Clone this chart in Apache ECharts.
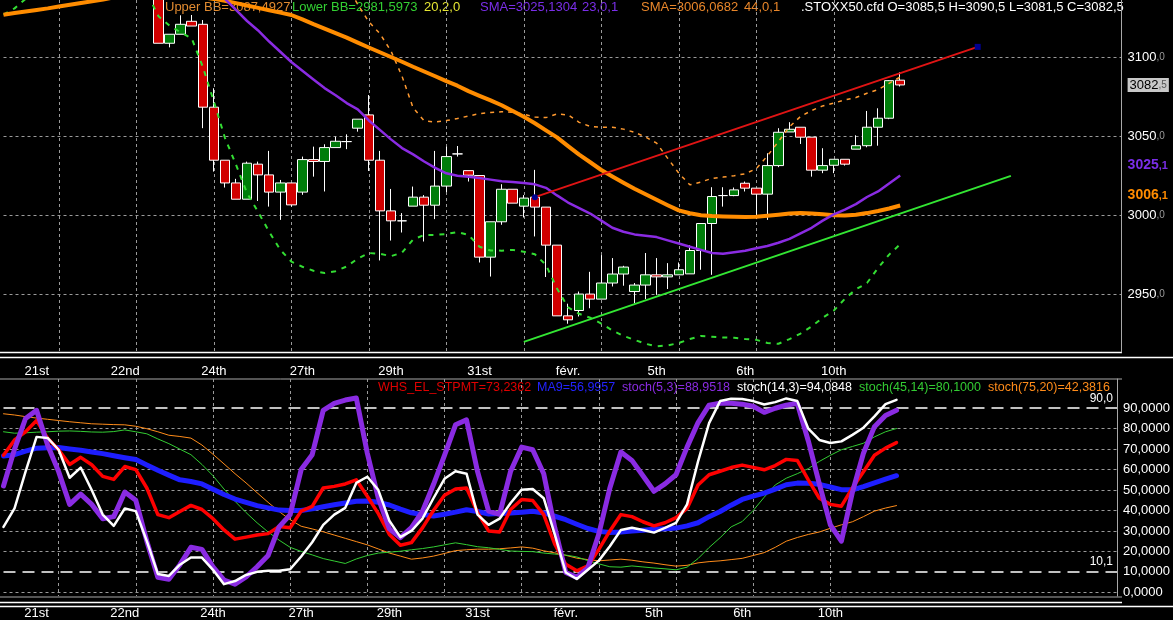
<!DOCTYPE html>
<html>
<head>
<meta charset="utf-8">
<title>STOXX50.cfd</title>
<script src="https://cdn.jsdelivr.net/npm/echarts@6.0.0/dist/echarts.min.js"></script>
<style>
  html, body { margin: 0; padding: 0; background: #000; }
  #chartContainer { width: 1173px; height: 620px; }
</style>
</head>
<body>
<div id="chartContainer"></div>
<script>
// one category slot per bar; first visible candle sits on slot 14
const slotCount = 102;
const firstCandleSlot = 14;

// x axis labels and the slots they sit on
const dateLabels = ['21st', '22nd', '24th', '27th', '29th', '31st', 'févr.', '5th', '6th', '10th'];
const dateLabelSlots = [3, 11, 19, 27, 35, 43, 51, 59, 67, 75];
const gridSlots = [5, 12, 19, 26, 33, 40, 47, 54, 61, 68, 75];

// candles
const opens = [3150, 3108.9, 3114.6, 3122.8, 3120.9, 3068.4, 3034.8, 3020.4, 3010.1, 3032.3,
  3025.5, 3014.6, 3020.4, 3014.6, 3035.2, 3034, 3042.8, 3046.6, 3055.1, 3063.5,
  3034.8, 3002.7, 2996.4, 3005.7, 3011.4, 3006.3, 3018.4, 3038.8, 3028.2, 3025.1,
  2973.4, 2995.8, 3016.4, 3005.7, 3011.4, 3005.1, 2981, 2936.2, 2939.6, 2950,
  2946.8, 2957, 2962.7, 2951.6, 2955.7, 2962.2, 2960.9, 2962.2, 2962.8, 2977.6,
  2994.7, 3012.4, 3012.4, 3020.2, 3017.1, 3013.3, 3031.4, 3052.7, 3055.7, 3049.4,
  3028.5, 3031.6, 3035.4, 3041.8, 3044, 3055.7, 3061.4, 3085.5];
const closes = [3108.9, 3114.6, 3120.9, 3119.8, 3068.4, 3034.8, 3020.4, 3010.1, 3032.9, 3025.5,
  3014.6, 3020.4, 3006.5, 3035.2, 3034, 3042.8, 3046.8, 3046.6, 3060.8, 3034.8,
  3002.7, 2996.4, 2996.4, 3011.4, 3006.3, 3018.4, 3037.1, 3038.8, 3025.3, 2973.4,
  2995.8, 3016.4, 3007.6, 3010.8, 3005.1, 2981, 2936.2, 2933.7, 2950, 2946.8,
  2957, 2962.7, 2967.1, 2955.7, 2962.2, 2960.9, 2962.2, 2965.4, 2977.6, 2994.7,
  3011.8, 3012.4, 3016, 3017.1, 3013.3, 3031.4, 3052.5, 3054.4, 3049.4, 3028.5,
  3031.4, 3035.4, 3032.3, 3044, 3055.7, 3061.4, 3085.2, 3082.5];
const lows = [3108.9, 3106.3, 3114.6, 3119.8, 3055.1, 3027.6, 3017.5, 3010.1, 3010.1, 3009,
  3005.4, 2997, 3005.4, 3012.9, 3024.4, 3015, 3042.8, 3041.8, 3052.9, 3028,
  2971.3, 2983.9, 2989, 3005.7, 2983.3, 2997.5, 3014.6, 3037.1, 3021.3, 2970,
  2961.1, 2993.9, 3007.6, 2998.5, 2986.5, 2960.8, 2936.2, 2931.2, 2935.8, 2941,
  2946.8, 2954.8, 2955.3, 2944.2, 2946.8, 2949.5, 2953.2, 2962.2, 2962.8, 2965.4,
  2962.2, 3005.4, 3012, 3015, 2997.5, 2997, 3030.4, 3052.7, 3045.1, 3024.4,
  3026.6, 3026.6, 3031.4, 3041.8, 3043, 3044, 3060.8, 3081.5];
const highs = [3155, 3114.6, 3126.6, 3126.8, 3123.6, 3080.4, 3034.8, 3023, 3033.9, 3033.9,
  3040.7, 3022.3, 3020.4, 3037.1, 3043.4, 3044.9, 3049.7, 3051.2, 3060.8, 3076.1,
  3040.7, 3016.6, 3001.3, 3018.1, 3012.7, 3040.7, 3043.4, 3043.8, 3028.2, 3025.1,
  2995.8, 3019.6, 3016.4, 3012.7, 3028.7, 3005.1, 2981, 2943.9, 2951.6, 2964.1,
  2974.7, 2972.8, 2967.9, 2957, 2976, 2972.8, 2969.6, 2970, 2981, 2994.7,
  3017.7, 3017.7, 3017.5, 3021.3, 3017.1, 3039.2, 3055.1, 3058.9, 3055.7, 3049.4,
  3042.4, 3035.4, 3035.4, 3050.6, 3066, 3067.7, 3085.5, 3090.5];

// price indicators, one value per slot
const sma44 = [3127, 3128, 3129, 3130, 3131, 3132.2, 3133.3, 3134.4, 3135.5, 3136.6,
  3138, 3139.5, 3140.5, 3141, 3141, 3140.5, 3140, 3139, 3138, 3137,
  3135.8, 3134.3, 3132.8, 3131.3, 3129.8, 3128.3, 3126.8, 3124, 3121, 3118.2,
  3115.3, 3112.5, 3109.3, 3106.2, 3103.2, 3100.2, 3097.2, 3094, 3091, 3088,
  3084.9, 3082, 3078.6, 3075.6, 3072.7, 3069.6, 3066, 3062.3, 3058.2, 3053.7,
  3049.3, 3043.7, 3038.3, 3033.5, 3028.6, 3024.5, 3020.5, 3016.7, 3013.2, 3009.7,
  3006.3, 3003, 3001.2, 2999.9, 2999.4, 2999.2, 2999, 2998.8, 2999, 2999.6,
  3000.3, 3001, 3001.3, 3001, 3000.5, 3000, 2999.7, 3000.2, 3001.3, 3002.6,
  3004.2, 3006.1];
const sma23Start = 19;
const sma23 = [3143, 3137, 3130, 3123, 3117, 3110, 3103.5, 3097, 3091.5, 3086, 3080.5,
  3076, 3071, 3067, 3060, 3054, 3048, 3042.5, 3038.5, 3034, 3030,
  3026.5, 3025, 3024.3, 3023.5, 3022.5, 3021.5, 3021, 3020.3, 3019.5, 3017.3,
  3012.5, 3008, 3004.5, 3001, 2996.5, 2992, 2989.5, 2987.8, 2987, 2986.1,
  2984, 2982, 2980, 2978, 2976, 2975.5, 2976.5, 2977.5, 2979, 2980.5,
  2982.5, 2985, 2988.5, 2992, 2996.5, 3000.5, 3003.5, 3007, 3011.5, 3015,
  3020, 3025.1];
const upperBBStart = 31;
const upperBB = [3146, 3133.5, 3122.5, 3115, 3104, 3088, 3068, 3059.8, 3059, 3059.9,
  3061.2, 3062.8, 3064.3, 3065, 3065.5, 3065.2, 3064, 3062.2, 3061.8, 3064.1,
  3063.5, 3058.8, 3056.2, 3055.7, 3055.7, 3054.5, 3052.5, 3049.5, 3045.6, 3036,
  3026.6, 3019.2, 3021, 3023.3, 3024.1, 3025, 3026.2, 3029.5, 3037.5, 3046.6,
  3056, 3062.5, 3066.3, 3069.2, 3071, 3073, 3074.5, 3077.2, 3079.5, 3083.5,
  3087.5];
const lowerBB = [3127, 3131, 3137, 3143, 3148, 3152, 3155, 3156, 3156, 3155,
  3152, 3148, 3144, 3140, 3126, 3120, 3115.8, 3112, 3094, 3072,
  3049, 3032, 3014, 3002, 2989.5, 2978, 2970.6, 2967.3, 2964.8, 2963.3,
  2964.5, 2967.5, 2972.5, 2976, 2975.5, 2974, 2976.3, 2984.5, 2987.5, 2987.5,
  2988, 2989.3, 2987.5, 2980, 2977.6, 2977.5, 2978, 2976.8, 2975.2, 2968.5,
  2953.5, 2941.6, 2937.5, 2935, 2931.3, 2927, 2923.5, 2921, 2918.5, 2916.8,
  2917.5, 2919, 2921.5, 2923.5, 2923, 2922.5, 2922.3, 2921.5, 2921, 2919,
  2918.5, 2921.5, 2925, 2929.5, 2935, 2939.5, 2947, 2953, 2957, 2966.5,
  2975, 2981.6];

// trend lines, [slot, price]
const resistance = [[48, 3011.4], [88, 3106.6]];
const support = [[47, 2919.7], [91, 3024.9]];

// oscillator panel, slots 0..81
const stpmt = [67, 74.5, 78.5, 84, 75.4, 69.7, 62.5, 66, 62.4, 56.7,
  55.2, 61.5, 60, 51, 38, 36.5, 39.5, 42.5, 40.5, 36,
  30.5, 26, 27, 28, 28.7, 32.2, 31.6, 39.7, 42, 51,
  51.8, 53, 55, 47, 38.5, 28.3, 23, 24.3, 31.5, 40,
  47.5, 50.5, 51, 39, 30, 29.5, 40.5, 45.4, 44.9, 38,
  23.5, 13.7, 10.5, 12.9, 21, 30, 38, 37, 34.5, 32.5,
  34, 36.5, 41, 52.5, 57.5, 59.2, 61, 62.2, 61.1, 59.9,
  62, 65, 64.5, 55, 46, 43, 42.1, 51, 59, 67,
  70.5, 73.2];
const ma9 = [66.7, 67.3, 69, 70.5, 70.7, 70.8, 70.1, 69.5, 68.6, 67.8,
  66.8, 65.8, 64.9, 62.3, 59.7, 57.3, 55, 54.2, 53, 50.4,
  47.8, 45.6, 44, 42.4, 41.3, 40.2, 40, 40, 40.8, 41.8,
  42.8, 43.7, 44.5, 44.6, 44, 42.7, 40.7, 38.9, 38, 37.3,
  38.2, 39.2, 40.4, 39.5, 38.3, 38.5, 38.8, 39.2, 39.6, 38.8,
  37.2, 35.5, 33.3, 31.2, 29.8, 29.3, 29.5, 30, 30.4, 30.8,
  31.1, 31.4, 32.5, 34, 37, 39.5, 42.6, 45.4, 47, 48.5,
  50.5, 52.6, 53.4, 53.3, 52.8, 51.5, 50.2, 50.1, 51.7, 53.5,
  55.3, 57];
const stoch5 = [52, 70, 85, 89, 72, 59, 43, 48, 43, 36,
  37, 49, 45, 25, 7.3, 6.4, 13.5, 22, 21, 12.5,
  6, 4, 7.5, 12.5, 18, 32, 38, 60, 67.3, 89,
  92.4, 94, 95, 68, 46, 31, 26.7, 31.6, 39.5, 52.7,
  67, 81.9, 84.3, 59, 39.7, 38.1, 59.2, 71, 69.7, 58,
  31.6, 9.7, 7.3, 12, 28.5, 51, 68.6, 64.5, 57, 49.4,
  53, 57.5, 71, 83, 91.5, 92.4, 92.4, 92, 91, 88,
  90, 91.5, 92.4, 74, 53, 33, 25, 49, 68, 81,
  86.5, 89];
const stoch14 = [32, 41, 59, 76, 75.5, 69.7, 56, 61, 50, 38,
  32.5, 41, 39.7, 25, 9, 8, 13.5, 17, 17, 11,
  4, 5.5, 8.5, 10, 10.5, 10.5, 11.3, 17.5, 24.5, 33,
  38, 41.3, 53.5, 56.5, 50, 35, 27, 30, 36, 46,
  55.5, 59.2, 58, 38, 33, 36, 43.7, 50.2, 50.5, 46,
  28.3, 9.7, 6.5, 11, 15.5, 22.5, 30.5, 31.6, 30.5, 29.2,
  31.5, 34, 43, 64, 82.7, 93.5, 94.6, 94.5, 93.5, 91.8,
  93, 94.8, 93.5, 80, 74.5, 73, 73.8, 77, 80.5, 86,
  92, 94.1];
const stoch45 = [78.5, 77.8, 78, 78.3, 78.5, 78.8, 78.9, 78.7, 78.4, 78.3,
  78.6, 79.4, 78.5, 77.5, 75, 72.7, 70, 67.3, 62.5, 57,
  50.5, 44.5, 39, 34, 29.5, 25.5, 22, 20, 18.3, 16.5,
  15.3, 14.1, 16.3, 18, 19.2, 19.6, 20.1, 20.8, 21.4, 22.2,
  23.2, 24.2, 23.3, 22.3, 21.8, 21, 20.2, 20, 19.9, 19.2,
  18.7, 18.2, 17.3, 15.5, 13.9, 12.5, 12.3, 12.9, 12.4, 11.9,
  11.5, 11, 12.3, 16.5, 21.9, 26.7, 32, 34.6, 40, 46.5,
  52.5, 55.8, 58, 60.5, 64, 67, 69.7, 71.3, 72.9, 76,
  78.5, 80.1];
const stoch75 = [87.3, 86.7, 85.9, 85.2, 84.6, 84, 83.4, 82.9, 82.4, 82.2,
  82, 81.9, 81.2, 80, 78.5, 76.8, 76.2, 75.4, 72, 67.5,
  62.8, 58, 53.5, 48.7, 44, 39.5, 35.5, 32.3, 31, 29.6,
  28, 26.4, 24.8, 23.2, 21.2, 19.2, 17.7, 16.2, 16.8, 17.7,
  19, 20.4, 20.8, 21.1, 21.1, 21.3, 21.7, 22.2, 21.6, 20.3,
  19.3, 18.1, 16.7, 16, 15.4, 15.8, 16.2, 15.7, 14.9, 14.3,
  13.5, 12.8, 13.2, 14.4, 15, 15.4, 16, 16.6, 18, 19.4,
  22, 25, 26.8, 28.3, 29.5, 31.3, 33, 34.5, 37, 39.7,
  41.2, 42.4];
const oscLevels = [0, 20, 30, 40, 50, 60, 70, 80];
const oscBands = [90, 10.1];

const FONT = '"Liberation Sans", Arial, sans-serif';
const GRID_LINE = { color: '#9a9a9a', type: [3, 3], width: 1 };

var myChart = echarts.init(document.getElementById('chartContainer'), null, { renderer: 'canvas' });

const slots = Array.from({ length: slotCount }, (_, i) => String(i));
const candleData = opens.map((o, i) => [firstCandleSlot + i, o, closes[i], lows[i], highs[i]]);

function toPairs(values, start) {
  return values.map((v, i) => [start + i, v]);
}

function priceTag(v) {
  const parts = v.toFixed(1).split('.');
  return '{a|' + parts[0] + '}{b|,' + parts[1] + '}';
}

// hidden horizontal marker that only carries a right side value tag
function tagLine(value, rich, bg, dy) {
  return {
    silent: true,
    symbol: 'none',
    animation: false,
    lineStyle: { color: 'rgba(0,0,0,0)', width: 0 },
    label: {
      show: true,
      position: 'end',
      distance: 6,
      offset: [0, dy || 0],
      formatter: priceTag(value),
      backgroundColor: bg || 'transparent',
      padding: bg ? [1, 2, 0, 2] : 0,
      rich: rich
    },
    data: [{ yAxis: value }]
  };
}

function xAxisFor(gridIndex, margin) {
  return {
    type: 'category',
    gridIndex: gridIndex,
    data: slots,
    boundaryGap: false,
    axisLine: { show: false },
    axisTick: { show: false },
    axisLabel: {
      color: '#fff',
      fontSize: 13,
      fontFamily: FONT,
      margin: margin,
      interval: (i) => dateLabelSlots.includes(i),
      formatter: (v) => {
        const k = dateLabelSlots.indexOf(Number(v));
        return k >= 0 ? dateLabels[k] : '';
      }
    },
    splitLine: { show: true, interval: (i) => gridSlots.includes(i), lineStyle: GRID_LINE }
  };
}

function legendText(text, x, y, color, size) {
  return {
    type: 'text', left: x, top: y, silent: true,
    style: { text: text, fill: color, font: size + 'px ' + FONT }
  };
}

function hLine(y, x2, color, width) {
  return {
    type: 'line', silent: true,
    shape: { x1: 0, y1: y, x2: x2, y2: y },
    style: { stroke: color, lineWidth: width }
  };
}

function oscLine(name, values, color, width) {
  return {
    name: name, type: 'line', xAxisIndex: 1, yAxisIndex: 1,
    data: toPairs(values, 0), showSymbol: false, animation: false,
    lineStyle: { color: color, width: width, join: 'round', cap: 'round' }
  };
}

const options = {
  backgroundColor: '#000',
  animation: false,
  textStyle: { fontFamily: FONT },
  grid: [
    { left: 3.5, top: 0, width: 1118.1, height: 352 },
    { left: 3.5, top: 379, width: 1118.1, height: 218 }
  ],
  xAxis: [xAxisFor(0, 13), xAxisFor(1, 11)],
  yAxis: [
    {
      type: 'value', gridIndex: 0, position: 'right',
      min: 2913.3, max: 3136.3, splitNumber: 4,
      axisLine: { show: true, lineStyle: { color: '#a8a8a8' } },
      axisTick: { show: false },
      axisLabel: {
        margin: 6, showMinLabel: false, showMaxLabel: false,
        formatter: (v) => (v % 50 === 0 ? '{a|' + v + '}{b|,0}' : ''),
        rich: {
          a: { color: '#fff', fontSize: 13, fontFamily: FONT },
          b: { color: '#9a9a9a', fontSize: 10, fontFamily: FONT }
        }
      },
      splitLine: { show: true, showMinLine: false, showMaxLine: false, lineStyle: GRID_LINE }
    },
    {
      type: 'value', gridIndex: 1, position: 'right',
      min: -1.8, max: 104.3, splitNumber: 10,
      axisLine: { show: true, lineStyle: { color: '#a8a8a8' } },
      axisTick: { show: false },
      axisLabel: {
        margin: 6, color: '#fff', fontSize: 13, fontFamily: FONT,
        showMinLabel: false, showMaxLabel: false,
        formatter: (v) => (Number.isInteger(v) && v >= 0 && v <= 90 ? v + ',0000' : '')
      },
      splitLine: { show: false }
    }
  ],
  graphic: [
    hLine(352.5, 1122, '#fff', 1.5),
    hLine(357.5, 1173, '#fff', 1.5),
    hLine(379, 1122, '#a8a8a8', 1),
    hLine(597, 1122, '#a8a8a8', 1),
    hLine(602.5, 1122, '#fff', 1.5),
    hLine(606.5, 1173, '#fff', 1.5),
    legendText('Upper BB=3087,4927', 165, 1, '#e08a30', 13),
    legendText('Lower BB=2981,5973', 292, 1, '#33d033', 13),
    legendText('20,2,0', 424, 1, '#e6e633', 13),
    legendText('SMA=3025,1304', 480, 1, '#7a2ee8', 13),
    legendText('23,0,1', 582, 1, '#7a2ee8', 13),
    legendText('SMA=3006,0682', 641, 1, '#e8862a', 13),
    legendText('44,0,1', 744, 1, '#e8862a', 13),
    legendText('.STOXX50.cfd O=3085,5 H=3090,5 L=3081,5 C=3082,5', 801, 1, '#ffffff', 13),
    legendText('WHS_EL_STPMT=73,2362', 378, 381, '#e00000', 12.5),
    legendText('MA9=56,9957', 537, 381, '#2323ff', 12.5),
    legendText('stoch(5,3)=88,9518', 622, 381, '#8a2be2', 12.5),
    legendText('stoch(14,3)=94,0848', 737, 381, '#ffffff', 12.5),
    legendText('stoch(45,14)=80,1000', 859, 381, '#33cc33', 12.5),
    legendText('stoch(75,20)=42,3816', 988, 381, '#ff8c1a', 12.5)
  ],
  series: [
    {
      name: 'STOXX50', type: 'candlestick', xAxisIndex: 0, yAxisIndex: 0,
      data: candleData, encode: { x: 0, y: [1, 2, 3, 4] },
      barWidth: 10,
      itemStyle: {
        color: '#007d0a', color0: '#d10000',
        borderColor: '#fff', borderColor0: '#fff', borderColorDoji: '#fff', borderWidth: 1
      },
      markLine: tagLine(closes[closes.length - 1], {
        a: { color: '#000', fontSize: 13, fontFamily: FONT },
        b: { color: '#555', fontSize: 10, fontFamily: FONT }
      }, '#c8c8c8')
    },
    {
      name: 'Upper BB', type: 'line', xAxisIndex: 0, yAxisIndex: 0,
      data: toPairs(upperBB, upperBBStart), showSymbol: false,
      lineStyle: { color: '#ff9a30', width: 1.5, type: [4, 5] }
    },
    {
      name: 'Lower BB', type: 'line', xAxisIndex: 0, yAxisIndex: 0,
      data: toPairs(lowerBB, 0), showSymbol: false,
      lineStyle: { color: '#33dd33', width: 2, type: [5, 6] }
    },
    {
      name: 'SMA 44', type: 'line', xAxisIndex: 0, yAxisIndex: 0,
      data: toPairs(sma44, 0), showSymbol: false,
      lineStyle: { color: '#ff8c00', width: 4, join: 'round' },
      markLine: tagLine(sma44[sma44.length - 1], {
        a: { color: '#ff8c00', fontSize: 14, fontWeight: 'bold', fontFamily: FONT },
        b: { color: '#ff8c00', fontSize: 11, fontWeight: 'bold', fontFamily: FONT }
      }, null, -10)
    },
    {
      name: 'SMA 23', type: 'line', xAxisIndex: 0, yAxisIndex: 0,
      data: toPairs(sma23, sma23Start), showSymbol: false,
      lineStyle: { color: '#8a2be2', width: 2.5, join: 'round' },
      markLine: tagLine(sma23[sma23.length - 1], {
        a: { color: '#7a2ee8', fontSize: 14, fontWeight: 'bold', fontFamily: FONT },
        b: { color: '#7a2ee8', fontSize: 11, fontWeight: 'bold', fontFamily: FONT }
      }, null, -10)
    },
    {
      name: 'Resistance', type: 'line', xAxisIndex: 0, yAxisIndex: 0,
      data: [
        { value: resistance[0], symbol: 'circle' },
        { value: resistance[1], symbol: 'rect' }
      ],
      showSymbol: true, symbolSize: 6,
      itemStyle: { color: '#000090' },
      lineStyle: { color: '#e01414', width: 2 }
    },
    {
      name: 'Support', type: 'line', xAxisIndex: 0, yAxisIndex: 0,
      data: support, showSymbol: false,
      lineStyle: { color: '#33e633', width: 2 }
    },
    Object.assign(oscLine('stoch(75,20)', stoch75, '#ff8c1a', 1), {
      markLine: {
        silent: true, symbol: 'none', animation: false, z: 1,
        data: oscLevels.map((v) => ({ yAxis: v, lineStyle: GRID_LINE, label: { show: false } }))
          .concat(oscBands.map((v) => ({
            yAxis: v,
            lineStyle: { color: '#fff', width: 1.5, type: [12, 7] },
            label: {
              show: true, position: 'insideEndTop', distance: 4,
              formatter: v.toFixed(1).replace('.', ','), color: '#fff', fontSize: 12
            }
          })))
      }
    }),
    oscLine('stoch(45,14)', stoch45, '#33cc33', 1),
    oscLine('MA9', ma9, '#1e1eff', 5),
    oscLine('WHS_EL_STPMT', stpmt, '#ff0000', 3.5),
    oscLine('stoch(5,3)', stoch5, '#8a2be2', 5),
    oscLine('stoch(14,3)', stoch14, '#ffffff', 2.5)
  ]
};

myChart.setOption(options);
</script>
</body>
</html>
